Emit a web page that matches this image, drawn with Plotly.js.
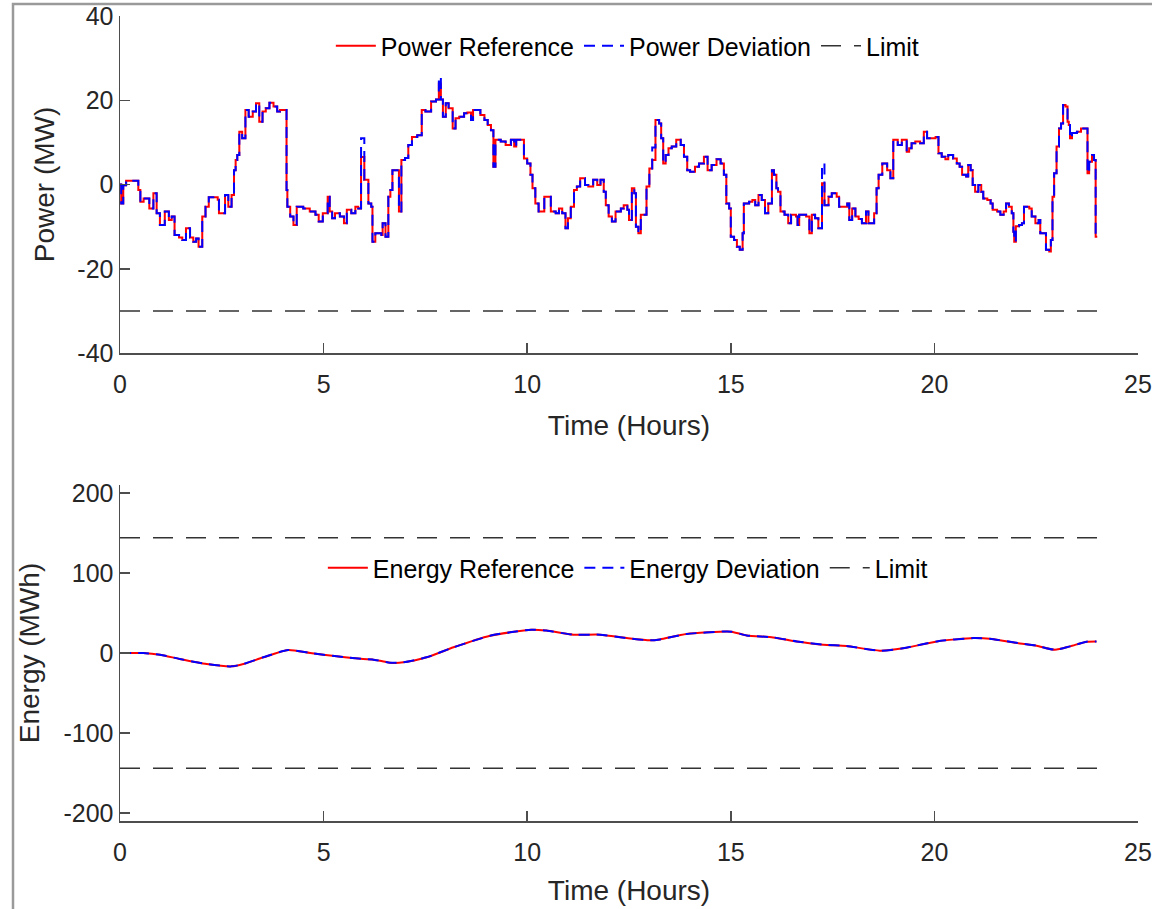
<!DOCTYPE html>
<html>
<head>
<meta charset="utf-8">
<script src="https://cdn.plot.ly/plotly-3.0.1.min.js"></script>
<style>html,body{margin:0;padding:0;background:#fff;}#chart{width:1152px;height:909px;}</style>
</head>
<body>
<div id="chart"></div>
<script>
// ---------- Data ----------
const powerTime = [
  0,0.03,0.08,0.15,0.45,0.5,0.58,0.72,0.82,0.9,
  0.98,1.1,1.2,1.27,1.34,1.45,1.53,1.62,1.72,1.8,
  1.87,1.93,2.02,2.1,2.18,2.4,2.43,2.58,2.66,2.74,
  2.8,2.84,2.88,2.93,3.0,3.08,3.16,3.26,3.34,3.42,
  3.5,3.58,3.67,3.77,3.86,3.93,4.09,4.11,4.18,4.26,
  4.34,4.5,4.66,4.8,4.88,4.98,5.1,5.15,5.21,5.28,
  5.4,5.5,5.57,5.68,5.78,5.85,5.92,6.0,6.1,6.17,
  6.2,6.27,6.42,6.45,6.52,6.59,6.64,6.69,6.85,6.91,
  7.0,7.08,7.17,7.3,7.41,7.5,7.64,7.76,7.83,7.88,
  7.93,8.0,8.07,8.17,8.24,8.33,8.45,8.53,8.62,8.67,
  8.85,8.95,9.03,9.11,9.17,9.22,9.35,9.47,9.6,9.68,
  9.73,9.92,10.0,10.08,10.13,10.2,10.28,10.42,10.58,10.7,
  10.78,10.86,10.94,11.0,11.07,11.15,11.22,11.3,11.42,11.5,
  11.62,11.72,11.8,11.88,11.93,12.0,12.08,12.17,12.3,12.37,
  12.46,12.5,12.57,12.63,12.67,12.73,12.79,12.93,13.0,13.07,
  13.15,13.24,13.29,13.34,13.4,13.47,13.55,13.66,13.77,13.85,
  13.93,14.0,14.12,14.22,14.34,14.43,14.53,14.65,14.75,14.83,
  14.89,14.96,15.0,15.08,15.15,15.22,15.29,15.32,15.45,15.53,
  15.6,15.68,15.76,15.84,15.92,16.01,16.06,16.12,16.16,16.22,
  16.32,16.41,16.48,16.6,16.64,16.68,16.85,16.93,16.99,17.07,
  17.15,17.24,17.3,17.4,17.48,17.6,17.66,17.86,17.91,17.98,
  18.06,18.14,18.22,18.32,18.38,18.52,18.58,18.63,18.72,18.84,
  18.92,18.99,19.1,19.2,19.32,19.38,19.44,19.53,19.65,19.74,
  19.82,20.03,20.1,20.18,20.27,20.34,20.46,20.55,20.62,20.68,
  20.78,20.83,20.89,20.94,21.0,21.08,21.15,21.2,21.3,21.38,
  21.43,21.54,21.62,21.7,21.76,21.83,21.9,21.94,21.96,22.0,
  22.08,22.15,22.2,22.33,22.39,22.48,22.56,22.6,22.74,22.82,
  22.86,22.9,22.94,23.0,23.06,23.11,23.16,23.22,23.27,23.3,
  23.33,23.38,23.5,23.6,23.76,23.8,23.87,23.92,23.96,24.0
];
const powerReference = [
  0,-4.5,-0.2,0.9,-1.3,-4.1,-3.3,-5.7,-2.1,-6.8,
  -9.6,-6.4,-8.4,-7.6,-12,-12.6,-13.2,-10.4,-12.6,-13.6,
  -12.8,-14.8,-7.6,-5.3,-3.0,-3.6,-6.8,-2.5,-5.3,-2.5,
  3.4,5.8,7.0,12.5,11,17.7,16.1,17.3,19.3,14.9,
  17.3,18.1,19.4,18.5,17.3,17.7,-1.3,-5.3,-7.6,-9.6,
  -5.3,-5.7,-6.4,-7.2,-8.8,-6.8,-2.9,-6.4,-8.0,-6.8,
  -7.6,-9.2,-6.0,-6.8,-5.3,-5.7,6.5,1.1,-4.5,-5.3,
  -13.6,-11.6,-12,-9.2,-12.4,-2.9,-1.3,3.4,-6.4,5.8,
  6.3,9.4,11.3,11.7,17.7,17.3,19.7,20.2,24,20.2,
  16.1,19.3,18.1,13.3,15.7,16.1,16.9,17.1,15.3,17.7,
  16.5,15.3,14.1,12.9,4.2,10.6,10.2,9.4,10.6,9.0,
  10.6,6.2,5.0,2.3,-0.9,-4.5,-6.4,-2.9,-6.4,-6.8,
  -5.7,-6.8,-10.4,-8.0,-5.3,-1.3,-0.5,1.5,-0.1,-0.5,
  1.1,-0.1,1.1,-1.7,-4.9,-7.6,-8.8,-6.4,-5.7,-4.9,
  -6.0,-8.4,-0.9,-2.1,-10.0,-11.6,-7.2,-0.5,3.8,5.8,
  15.3,14.5,11,5.0,7.0,8.6,9.0,10.6,9.4,6.6,
  3.4,3.0,4.2,5.0,6.6,3.4,4.6,6.0,5.0,2.3,
  -4.5,-5.7,-12.4,-13.2,-14.8,-15.5,-11.6,-4.5,-4.1,-3.7,
  -4.9,-2.5,-3.7,-6.8,-4.5,3.4,2.3,-0.9,-1.7,-6.4,
  -7.2,-9.2,-7.2,-7.6,-9.6,-7.2,-7.6,-11.6,-7.2,-8.0,
  -10.4,0.3,-4.9,-2.9,-2.1,-2.9,-5.3,-4.5,-8.4,-5.7,
  -7.6,-8.2,-9.2,-6.4,-9.2,-6.8,-0.9,2.3,5.0,3.4,
  1.5,10.6,9.4,10.6,7.8,8.6,9.8,10.2,9.8,12.5,
  11.0,11.3,7.4,6.6,6.0,7.0,6.2,5.0,4.2,2.3,
  1.9,4.6,3.4,-0.1,-1.7,-0.1,-1.7,-3.3,-3.7,-4.5,
  -6.0,-6.4,-7.2,-6.4,-4.5,-5.3,-6.8,-11.2,-13.6,-9.9,
  -9.6,-9.2,-5.3,-5.7,-7.6,-9.2,-8.4,-11.6,-15.5,-15.9,
  -13.2,-2.9,2.7,9.0,13.3,14.5,18.9,18.5,14.9,14.1,
  11,12.2,12.5,13.3,2.7,5.4,7.0,5.8,-12.4,-12.4
];
const powerDeviation = [
  0,-4.5,-0.2,0.9,-1.3,-4.1,-3.3,-5.7,-2.1,-6.8,
  -9.6,-6.4,-8.4,-7.6,-12,-12.6,-13.2,-10.4,-12.6,-13.6,
  -12.8,-14.8,-7.6,-5.3,-3.0,-3.6,-6.8,-2.5,-5.3,-2.5,
  3.4,5.8,7.0,12.5,11,17.7,16.1,17.3,19.3,14.9,
  17.3,18.1,19.4,18.5,17.3,17.7,-1.3,-5.3,-7.6,-9.6,
  -5.3,-5.7,-6.4,-7.2,-8.8,-6.8,-2.9,-6.4,-8.0,-6.8,
  -7.6,-9.2,-6.0,-6.8,-5.3,-5.7,11,1.1,-4.5,-5.3,
  -13.6,-11.6,-12,-9.2,-12.4,-2.9,-1.3,3.4,-6.4,5.8,
  6.3,9.4,11.3,11.7,17.7,17.3,19.7,20.2,25.6,20.2,
  16.1,19.3,18.1,13.3,15.7,16.1,16.9,17.1,15.3,17.7,
  16.5,15.3,14.1,12.9,4.2,10.6,10.2,9.4,10.6,9.0,
  10.6,6.2,5.0,2.3,-0.9,-4.5,-6.4,-2.9,-6.4,-6.8,
  -5.7,-6.8,-10.4,-8.0,-5.3,-1.3,-0.5,1.5,-0.1,-0.5,
  1.1,-0.1,1.1,-1.7,-4.9,-7.6,-8.8,-6.4,-5.7,-4.9,
  -6.0,-8.4,-0.9,-2.1,-10.0,-11.6,-7.2,-0.5,3.8,8.8,
  15.3,14.5,11,5.0,7.0,8.6,9.0,10.6,9.4,6.6,
  3.4,3.0,4.2,5.0,6.6,3.4,4.6,6.0,5.0,2.3,
  -4.5,-5.7,-12.4,-13.2,-14.8,-15.5,-11.6,-4.5,-4.1,-3.7,
  -4.9,-2.5,-3.7,-6.8,-4.5,3.4,2.3,-0.9,-1.7,-6.4,
  -7.2,-9.2,-7.2,-7.6,-9.6,-7.2,-7.6,-11.6,-7.2,-8.0,
  -10.4,5.0,-4.9,-2.9,-2.1,-2.9,-5.3,-4.5,-8.4,-5.7,
  -7.6,-8.2,-9.2,-6.4,-9.2,-6.8,-0.9,2.3,5.0,3.4,
  1.5,10.6,9.4,10.6,7.8,8.6,9.8,10.2,9.8,12.5,
  11.0,11.3,7.4,6.6,6.0,7.0,6.2,5.0,4.2,2.3,
  1.9,4.6,3.4,-0.1,-1.7,-0.1,-1.7,-3.3,-3.7,-4.5,
  -6.0,-6.4,-7.2,-6.4,-4.5,-5.3,-6.8,-11.2,-13.6,-9.9,
  -9.6,-9.2,-5.3,-5.7,-7.6,-9.2,-8.4,-11.6,-15.5,-15.9,
  -13.2,-2.9,2.7,9.0,13.3,14.5,18.9,18.5,14.9,14.1,
  11,12.2,12.5,13.3,2.7,5.4,7.0,5.8,-12.4,-12.4
];

const energyTime = [
  0,0.57,0.98,1.47,2.13,2.74,3.03,3.52,4.13,4.67,
  5.32,5.97,6.2,6.63,6.96,7.53,8.19,9.09,9.58,10.1,
  10.47,11.13,11.79,12.44,13.02,13.26,13.91,14.9,15.02,15.39,
  16.04,16.62,17.27,17.84,18.66,19.23,20.06,20.96,21.36,22.1,
  22.51,22.96,23.33,23.74,23.98
];
const energyReference = [
  0,0,-2.1,-7.5,-13.8,-16.7,-13.8,-5.4,3.7,0,
  -4.2,-7.5,-8,-12.1,-11.7,-5.4,7.1,21.6,25.8,29.1,
  28,22.9,22.9,18.7,15.8,17,23.7,27,26.7,22,
  19.5,14.5,10.4,8.7,2.9,5.8,14.5,18.7,17.9,12,
  9.1,4.1,8.3,14.1,14.5
];
const energyDeviation = [
  0,0,-2.1,-7.5,-13.8,-16.7,-13.8,-5.4,3.7,0,
  -4.2,-7.5,-8,-12.1,-11.7,-5.4,7.1,21.6,25.8,29.1,
  28,22.9,22.9,18.7,15.8,17,23.7,27,26.7,22,
  19.5,14.5,10.4,8.7,2.9,5.8,14.5,18.7,17.9,12,
  9.1,4.1,8.3,14.1,14.5
];

const limitTime = [0, 24];
const powerLimit = [-30, -30];
const energyLimitTime = [0, 24, null, 0, 24];
const energyLimit = [144, 144, null, -144, -144];

const xTickVals = [0, 5, 10, 15, 20, 25];
const xTickText = ['0', '5', '10', '15', '20', '25'];
const powerTickVals = [-40, -20, 0, 20, 40];
const powerTickText = ['-40', '-20', '0', '20', '40'];
const energyTickVals = [-200, -100, 0, 100, 200];
const energyTickText = ['-200', '-100', '0', '100', '200'];

// ---------- Styles ----------
const FONT = 'Liberation Sans, Arial, Helvetica, sans-serif';
const TXT = '#262626';
const AX = '#4d4d4d';
const W = 1152, H = 909;
const px = v => v / W;
const py = v => 1 - v / H;

const traces = [
  {x: powerTime, y: powerReference, type: 'scatter', mode: 'lines', name: 'Power Reference',
   line: {color: '#ff0000', width: 2, shape: 'hv'}, xaxis: 'x', yaxis: 'y', legend: 'legend'},
  {x: powerTime, y: powerDeviation, type: 'scatter', mode: 'lines', name: 'Power Deviation',
   line: {color: '#0000ff', width: 2, shape: 'hv', dash: '11px,7px'}, xaxis: 'x', yaxis: 'y', legend: 'legend'},
  {x: limitTime, y: powerLimit, type: 'scatter', mode: 'lines', name: 'Limit',
   line: {color: '#333333', width: 1.5, dash: '20px,13px'}, xaxis: 'x', yaxis: 'y', legend: 'legend'},
  {x: energyTime, y: energyReference, type: 'scatter', mode: 'lines', name: 'Energy Reference',
   line: {color: '#ff0000', width: 2, shape: 'spline', smoothing: 0.6}, xaxis: 'x2', yaxis: 'y2', legend: 'legend2'},
  {x: energyTime, y: energyDeviation, type: 'scatter', mode: 'lines', name: 'Energy Deviation',
   line: {color: '#0000ff', width: 2, shape: 'spline', smoothing: 0.6, dash: '11px,7px'}, xaxis: 'x2', yaxis: 'y2', legend: 'legend2'},
  {x: energyLimitTime, y: energyLimit, type: 'scatter', mode: 'lines', name: 'Limit',
   line: {color: '#333333', width: 1.5, dash: '20px,13px'}, xaxis: 'x2', yaxis: 'y2', legend: 'legend2'}
];

const xCommon = {
  range: [0, 25], tickmode: 'array', tickvals: xTickVals, ticktext: xTickText,
  ticks: 'inside', ticklen: 10, tickwidth: 1.5, ticklabelstandoff: 8,
  tickcolor: AX, showline: true, linecolor: AX, linewidth: 1.5, showgrid: false, zeroline: false,
  tickfont: {family: FONT, size: 25, color: TXT}, domain: [px(120), px(1138)],
  automargin: false, fixedrange: true
};
const yCommon = {
  ticks: 'inside', ticklen: 10, tickwidth: 1.5, tickcolor: AX, showline: true, linecolor: AX,
  linewidth: 1.5, showgrid: false, zeroline: false, tickmode: 'array',
  tickfont: {family: FONT, size: 25, color: TXT}, automargin: false, fixedrange: true
};

const layout = {
  width: W, height: H,
  margin: {l: 0, r: 0, t: 0, b: 0},
  paper_bgcolor: '#ffffff', plot_bgcolor: '#ffffff',
  font: {family: FONT, color: TXT},
  showlegend: true,
  xaxis: Object.assign({}, xCommon, {anchor: 'y',
    title: {text: 'Time (Hours)', font: {family: FONT, size: 28, color: TXT}, standoff: 19}}),
  yaxis: Object.assign({}, yCommon, {
    range: [-40, 40], tickvals: powerTickVals, ticktext: powerTickText, domain: [py(353), py(16)], anchor: 'x',
    title: {text: 'Power (MW)', font: {family: FONT, size: 28, color: TXT}, standoff: 14}
  }),
  xaxis2: Object.assign({}, xCommon, {anchor: 'y2',
    title: {text: 'Time (Hours)', font: {family: FONT, size: 28, color: TXT}, standoff: 16}}),
  yaxis2: Object.assign({}, yCommon, {
    range: [-210, 210], tickvals: energyTickVals, ticktext: energyTickText, domain: [py(821), py(485)], anchor: 'x2',
    title: {text: 'Energy (MWh)', font: {family: FONT, size: 28, color: TXT}, standoff: 15}
  }),
  legend: {orientation: 'h', x: 0.545, xanchor: 'center', y: py(46), yanchor: 'middle',
    bgcolor: 'rgba(0,0,0,0)', font: {family: FONT, size: 25, color: '#000'}, itemwidth: 40, tracegroupgap: 0},
  legend2: {orientation: 'h', x: 0.545, xanchor: 'center', y: py(568), yanchor: 'middle',
    bgcolor: 'rgba(0,0,0,0)', font: {family: FONT, size: 25, color: '#000'}, itemwidth: 40, tracegroupgap: 0},
  shapes: [
    {type: 'rect', xref: 'paper', yref: 'paper', x0: px(13), x1: px(1170), y0: py(930), y1: py(4),
     line: {color: '#9a9a9a', width: 2.5}, fillcolor: 'rgba(0,0,0,0)', layer: 'below'}
  ]
};

Plotly.newPlot('chart', traces, layout, {staticPlot: true, displayModeBar: false});
</script>
</body>
</html>
